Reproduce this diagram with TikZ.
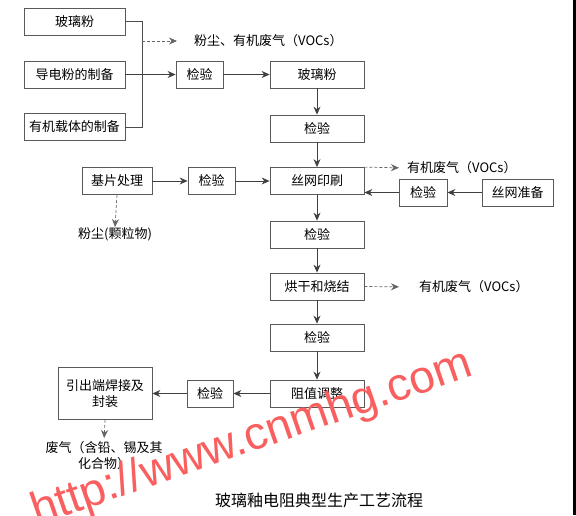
\documentclass[tikz,border=0pt]{standalone}
\usepackage{fontspec}
\setmainfont{Noto Sans CJK SC}
\newfontfamily\markfont{Liberation Sans}
\usetikzlibrary{arrows.meta}
\definecolor{markred}{RGB}{250,95,95}

\begin{document}
\begin{tikzpicture}[x=1pt,y=-1pt,
        box/.style={draw=black!65, line width=0.8pt, fill=white, minimum height=27pt, inner sep=0pt, font=\fontsize{13}{16}\selectfont},
        flow/.style={draw=black!75, line width=0.8pt, -{Stealth[length=8pt,width=7pt]}},
        waste/.style={draw=black!60, line width=0.7pt, densely dashed, -{Stealth[length=8pt,width=7pt]}},
        note/.style={inner sep=0pt, font=\fontsize{13}{16}\selectfont}]
        \useasboundingbox (0,0) rectangle (576,515);
        \fill[color = white] (0,0) rectangle (576,515);
        \fill[color = black] (573,0) rectangle (576,515);
        % raw materials
        \node[box, minimum width=101pt] (glass) at (74.5,21.5) {玻璃粉};
        \node[box, minimum width=101pt] (cond) at (74.5,74.5) {导电粉的制备};
        \node[box, minimum width=101pt] (org) at (74.5,127) {有机载体的制备};
        \coordinate (br1) at (142,21.5);
        \coordinate (br2) at (142,41);
        \coordinate (br3) at (142,127);
        \draw[draw=black!70, line width=0.8pt] (glass.east)--(br1)--(br3)--(org.east);
        \node[note, anchor=west] (dust1) at (194,41) {粉尘、有机废气（VOCs）};
        \draw[waste, shorten >=17pt] (br2)--(dust1.west);
        % main line
        \node[box, minimum width=47pt] (chk1) at (199.5,74.5) {检验};
        \node[box, minimum width=94pt] (glassB) at (317,74.5) {玻璃粉};
        \node[box, minimum width=94pt] (chk2) at (317,128.5) {检验};
        \node[box, minimum width=94pt] (print) at (317,181) {丝网印刷};
        \node[box, minimum width=94pt] (chk5) at (317,234.5) {检验};
        \node[box, minimum width=94pt] (fire) at (317,286.5) {烘干和烧结};
        \node[box, minimum width=94pt] (chk6) at (317,337.5) {检验};
        \node[box, minimum width=94pt] (trim) at (317,393.5) {阻值调整};
        \draw[flow] (cond.east)--(chk1.west);
        \draw[flow] (chk1.east)--(glassB.west);
        \draw[flow] (glassB.south)--(chk2.north);
        \draw[flow] (chk2.south)--(print.north);
        \draw[flow] (print.south)--(chk5.north);
        \draw[flow] (chk5.south)--(fire.north);
        \draw[flow] (fire.south)--(chk6.north);
        \draw[flow] (chk6.south)--(trim.north);
        % substrate
        \node[box, minimum width=70pt] (sub) at (117,181) {基片处理};
        \node[box, minimum width=47pt] (chk3) at (211.5,181) {检验};
        \draw[flow] (sub.east)--(chk3.west);
        \draw[flow] (chk3.east)--(print.west);
        \node[note] (dust2) at (115,234) {粉尘(颗粒物)};
        \draw[waste] (sub.south)--(dust2.north);
        % screen
        \node[box, minimum width=71pt] (screen) at (517.5,192.5) {丝网准备};
        \node[box, minimum width=48pt] (chk4) at (423,192.5) {检验};
        \draw[flow] (screen.west)--(chk4.east);
        \draw[flow] (chk4.west)--(chk4.west -| print.east);
        \node[note, anchor=west] (voc1) at (407,168) {有机废气（VOCs）};
        \draw[waste, shorten >=8pt] (print.north east)--(voc1.west);
        \node[note, anchor=west] (voc2) at (419,287) {有机废气（VOCs）};
        \draw[waste, shorten >=20pt] (fire.east)--(voc2.west);
        % end of line
        \node[box, minimum width=46pt] (chk7) at (210,393.5) {检验};
        \node[box, minimum width=94pt, minimum height=52pt, align=center] (lead) at (105,393.5) {引出端焊接及\\封装};
        \draw[flow] (trim.west)--(chk7.east);
        \draw[flow] (chk7.west)--(lead.east);
        \node[note, align=center, anchor=north] (gas) at (104,441) {废气（含铅、锡及其\\化合物）};
        \draw[waste, shorten >=3pt] (lead.south)--(gas.north);
        \node[inner sep=0pt, font=\fontsize{16}{18}\selectfont] (title) at (319,500) {玻璃釉电阻典型生产工艺流程};
        % watermark
        \node[inner sep=0pt, anchor=base west, rotate=19, text=markred, font=\markfont\fontsize{46}{46}\selectfont] (mark) at (37,526) {http://www.cnmhg.com};
\end{tikzpicture}
\end{document}
